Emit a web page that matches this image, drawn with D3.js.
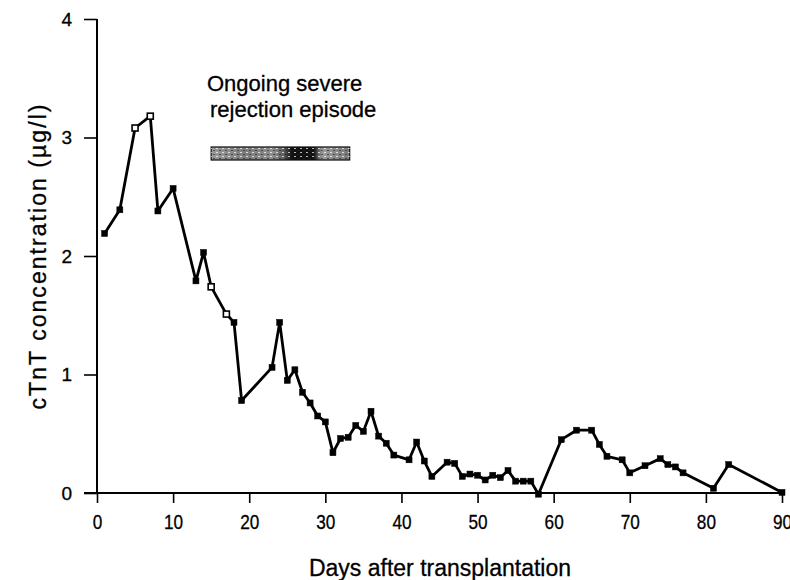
<!DOCTYPE html>
<html>
<head>
<meta charset="utf-8">
<script src="https://cdn.jsdelivr.net/npm/d3@7"></script>
<style>
  html, body { margin: 0; padding: 0; background: #fff; }
  svg { display: block; }
  text { font-family: "Liberation Sans", Arial, Helvetica, sans-serif; fill: #000; }
</style>
</head>
<body>
<svg id="chart" width="790" height="580"></svg>
<script>
// ---- data ----
const days = [1, 3, 5, 7, 8, 10, 13, 14, 15, 17, 18, 19, 23, 24, 25, 26, 27, 28, 29, 30,
  31, 32, 33, 34, 35, 36, 37, 38, 39, 41, 42, 43, 44, 46, 47, 48, 49, 50, 51, 52,
  53, 54, 55, 56, 57, 58, 61, 63, 65, 66, 67, 69, 70, 72, 74, 75, 76, 77, 81, 83, 90];
const cTnT = [2.19, 2.39, 3.08, 3.18, 2.38, 2.57, 1.79, 2.03, 1.74, 1.51, 1.44, 0.78, 1.06, 1.44, 0.95, 1.04, 0.85, 0.76, 0.65, 0.60,
  0.34, 0.46, 0.47, 0.57, 0.52, 0.69, 0.48, 0.42, 0.32, 0.28, 0.43, 0.27, 0.14, 0.26, 0.25, 0.14, 0.16, 0.15, 0.11, 0.15,
  0.13, 0.19, 0.10, 0.10, 0.10, -0.01, 0.45, 0.53, 0.53, 0.41, 0.31, 0.28, 0.17, 0.23, 0.29, 0.24, 0.22, 0.17, 0.04, 0.24, 0.005];
const openMarkerDays = [5, 7, 15, 17];
const xTicks = [0, 10, 20, 30, 40, 50, 60, 70, 80, 90];
const yTicks = [0, 1, 2, 3, 4];
const rejectionEpisode = [15, 33.2];   // days covered by the bar
const rejectionLevel = [2.92, 2.81];   // vertical extent of the bar (µg/l)
const annotationLines = ["Ongoing severe", "rejection episode"];
const xTitle = "Days after transplantation";
const yTitle = "cTnT concentration (\u00b5g/l)";

// ---- scales ----
const svg = d3.select("#chart");
const x = d3.scaleLinear().domain([0, 90]).range([97, 782]);
const y = d3.scaleLinear().domain([0, 4]).range([493, 19]);

// ---- axes ----
const yAxis = svg.append("g")
  .attr("transform", `translate(${x(0)},0)`)
  .call(d3.axisLeft(y).tickValues(yTicks).tickFormat(d3.format("d")).tickSize(13).tickSizeOuter(0).tickPadding(12));
yAxis.select(".domain").remove();
yAxis.selectAll(".tick line").attr("stroke", "#000").attr("stroke-width", 1.6);
yAxis.selectAll(".tick text").attr("font-size", 19)
  .style("font-family", "'Liberation Sans', Arial, sans-serif")
  .attr("fill", "#000").attr("stroke", "#000").attr("stroke-width", 0.3);

const xAxis = svg.append("g")
  .attr("transform", `translate(0,${y(0)})`)
  .call(d3.axisBottom(x).tickValues(xTicks).tickSize(10).tickSizeOuter(0).tickPadding(0));
xAxis.select(".domain").remove();
xAxis.selectAll(".tick line").attr("stroke", "#000").attr("stroke-width", 1.6);
xAxis.selectAll(".tick text")
  .attr("font-size", 20).attr("dy", null).attr("y", 36)
  .attr("transform", "scale(0.86,1)")
  .style("font-family", "'Liberation Sans', Arial, sans-serif")
  .attr("fill", "#000").attr("stroke", "#000").attr("stroke-width", 0.3);

// axis lines
svg.append("line")
  .attr("x1", x(0)).attr("x2", x(0))
  .attr("y1", y(4)).attr("y2", y(0))
  .attr("stroke", "#000").attr("stroke-width", 2);
svg.append("line")
  .attr("x1", x(0) - 13).attr("x2", x(90))
  .attr("y1", y(0)).attr("y2", y(0))
  .attr("stroke", "#000").attr("stroke-width", 2);

// axis titles
svg.append("text")
  .attr("x", 440).attr("y", 576)
  .attr("text-anchor", "middle").attr("font-size", 23)
  .attr("stroke", "#000").attr("stroke-width", 0.3)
  .text(xTitle);
svg.append("text")
  .attr("transform", `translate(46,257) rotate(-90)`)
  .attr("text-anchor", "middle").attr("font-size", 23)
  .attr("textLength", 305).attr("lengthAdjust", "spacing")
  .attr("stroke", "#000").attr("stroke-width", 0.3)
  .text(yTitle);

// ---- rejection episode bar ----
const defs = svg.append("defs");
const grad = defs.append("linearGradient").attr("id", "mottle").attr("x1", "0%").attr("x2", "100%");
[[0, "#9a9a9a"], [0.25, "#7c7c7c"], [0.45, "#8e8e8e"], [0.53, "#555"], [0.58, "#111"], [0.74, "#111"], [0.8, "#9a9a9a"], [1, "#7a7a7a"]]
  .forEach(([o, c]) => grad.append("stop").attr("offset", o).attr("stop-color", c));
const speck = defs.append("pattern").attr("id", "speck")
  .attr("width", 6).attr("height", 4).attr("patternUnits", "userSpaceOnUse");
speck.append("rect").attr("width", 6).attr("height", 4).attr("fill", "none");
speck.append("rect").attr("x", 0).attr("y", 0).attr("width", 2).attr("height", 1).attr("fill", "#fff").attr("opacity", 0.7);
speck.append("rect").attr("x", 3).attr("y", 2).attr("width", 2).attr("height", 1).attr("fill", "#222").attr("opacity", 0.6);

svg.append("rect")
  .attr("x", x(rejectionEpisode[0])).attr("y", y(rejectionLevel[0]))
  .attr("width", x(rejectionEpisode[1]) - x(rejectionEpisode[0]))
  .attr("height", y(rejectionLevel[1]) - y(rejectionLevel[0]))
  .attr("fill", "url(#mottle)").attr("stroke", "#111").attr("stroke-width", 1.2);
svg.append("rect")
  .attr("x", x(rejectionEpisode[0])).attr("y", y(rejectionLevel[0]))
  .attr("width", x(rejectionEpisode[1]) - x(rejectionEpisode[0]))
  .attr("height", y(rejectionLevel[1]) - y(rejectionLevel[0]))
  .attr("fill", "url(#speck)");

// annotation text
svg.append("text")
  .attr("x", 207).attr("y", 91).attr("font-size", 22)
  .attr("stroke", "#000").attr("stroke-width", 0.3)
  .text(annotationLines[0]);
svg.append("text")
  .attr("x", 210).attr("y", 117).attr("font-size", 22)
  .attr("stroke", "#000").attr("stroke-width", 0.3)
  .text(annotationLines[1]);

// ---- series ----
const pts = days.map((d, i) => ({ d, v: cTnT[i] }));
svg.append("path")
  .datum(pts)
  .attr("fill", "none").attr("stroke", "#000").attr("stroke-width", 2.8)
  .attr("stroke-linejoin", "round")
  .attr("d", d3.line().x(p => x(p.d)).y(p => y(p.v)));

const ms = 6;
svg.selectAll("rect.marker").data(pts).join("rect")
  .attr("class", "marker")
  .attr("x", p => x(p.d) - ms / 2).attr("y", p => y(p.v) - ms / 2)
  .attr("width", ms).attr("height", ms)
  .attr("fill", p => openMarkerDays.includes(p.d) ? "#fff" : "#000")
  .attr("stroke", "#000").attr("stroke-width", p => openMarkerDays.includes(p.d) ? 1.6 : 0.5);
</script>
</body>
</html>
